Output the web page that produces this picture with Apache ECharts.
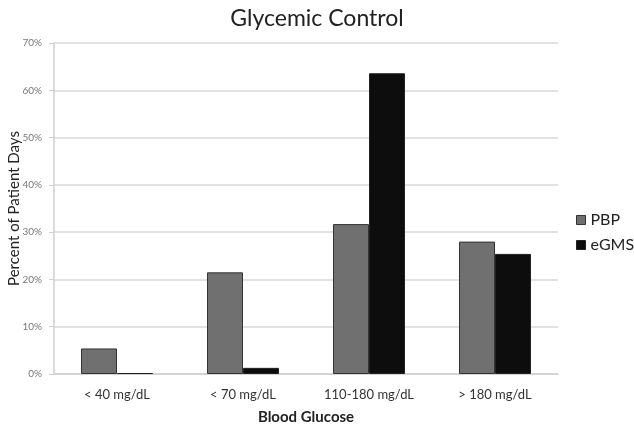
<!DOCTYPE html>
<html><head><meta charset="utf-8">
<script src="https://cdn.jsdelivr.net/npm/echarts@6/dist/echarts.min.js"></script>
<style>html,body{margin:0;padding:0;background:#fff}#c{width:634px;height:426px}</style>
</head><body><div id="c"></div>
<script>
const categories = ['< 40 mg/dL', '< 70 mg/dL', '110-180 mg/dL', '> 180 mg/dL'];
const pbp = [5.4, 21.5, 31.7, 28.0];
const egms = [0.2, 1.3, 63.6, 25.4];
const yTicks = [0, 10, 20, 30, 40, 50, 60, 70];
const FONT = 'Lato';
const chart = echarts.init(document.getElementById('c'));
chart.setOption({
  animation: false,
  backgroundColor: '#fff',
  textStyle: {fontFamily: FONT},
  title: {text: 'Glycemic Control', left: 'center', top: 2,
    textStyle: {fontFamily: FONT, fontSize: 23, fontWeight: 'normal', color: '#222'}},
  legend: {orient: 'vertical', left: 571, top: 207, itemWidth: 9, itemHeight: 9, itemGap: 9,
    icon: 'rect',
    textStyle: {fontFamily: FONT, fontSize: 16, color: '#222'},
    data: [
      {name: 'PBP', itemStyle: {borderColor: '#333', borderWidth: 1}},
      {name: 'eGMS', itemStyle: {borderColor: '#222', borderWidth: 1}}
    ]},
  grid: {left: 54, right: 76, top: 43, bottom: 52, outerBoundsMode: 'none', containLabel: false},
  xAxis: {type: 'category', data: categories,
    name: 'Blood Glucose', nameLocation: 'middle', nameGap: 36,
    nameTextStyle: {fontFamily: FONT, fontSize: 15, fontWeight: 'bold', color: '#222'},
    axisLine: {lineStyle: {color: '#d0d0d0', width: 1.5}}, axisTick: {show: false},
    axisLabel: {fontFamily: FONT, fontSize: 13, color: '#333', margin: 14}},
  yAxis: {type: 'value', min: 0, max: 70, interval: 10,
    name: 'Percent of Patient Days', nameLocation: 'middle', nameGap: 32, nameRotate: 90,
    nameMoveOverlap: false,
    nameTextStyle: {fontFamily: FONT, fontSize: 15, color: '#222'},
    axisLine: {show: true, lineStyle: {color: '#d0d0d0', width: 1.5}},
    axisTick: {show: true, length: 5, lineStyle: {color: '#d0d0d0'}},
    axisLabel: {fontFamily: FONT, fontSize: 10, color: '#777', margin: 12,
      formatter: v => yTicks.includes(v) ? v + '%' : ''},
    splitLine: {lineStyle: {color: '#d9d9d9', width: 1.5}}},
  series: [
    {name: 'PBP', type: 'bar', data: pbp, barWidth: 36, barGap: '0%',
      itemStyle: {color: '#707070', borderColor: '#333', borderWidth: 1}},
    {name: 'eGMS', type: 'bar', data: egms, barWidth: 36,
      itemStyle: {color: '#0d0d0d', borderColor: '#222', borderWidth: 1}}
  ]
});
</script></body></html>
